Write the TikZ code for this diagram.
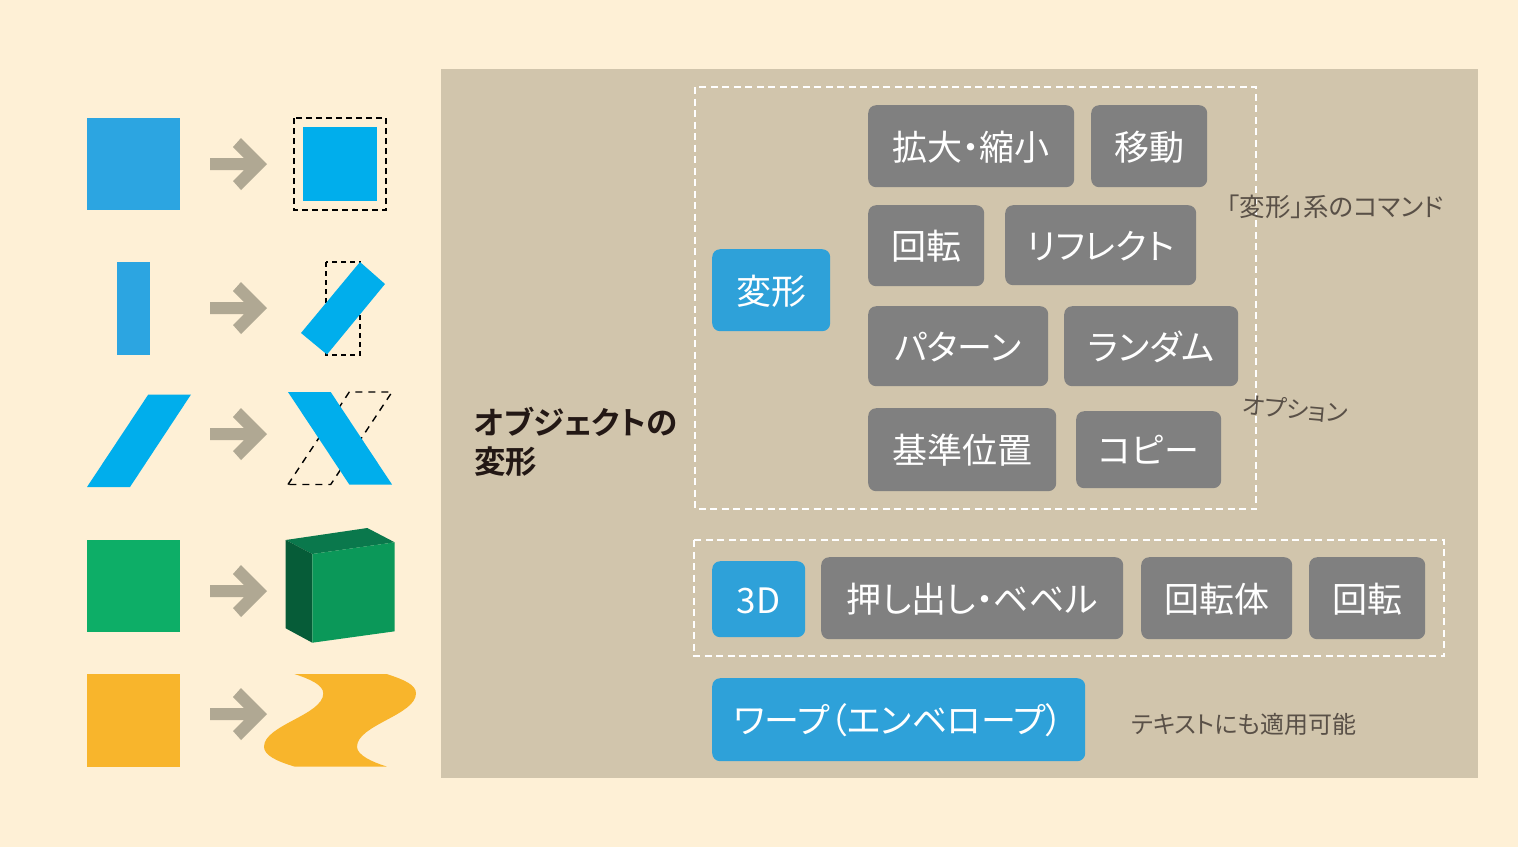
\documentclass[tikz,border=0pt]{standalone}
\usepackage{fontspec}
\usepackage{tikz}
\usetikzlibrary{positioning}
\newfontfamily\jpfont[RawFeature=+palt,BoldFont={Noto Sans CJK JP Bold}]{Noto Sans CJK JP}
\definecolor{pagecream}{RGB}{254,240,214}
\definecolor{panelsand}{RGB}{209,197,172}
\definecolor{cmdgray}{RGB}{128,128,128}
\definecolor{cmdblue}{RGB}{46,161,217}
\definecolor{shapeblue}{RGB}{44,165,225}
\definecolor{shapecyan}{RGB}{0,174,236}
\definecolor{shapegreen}{RGB}{13,174,103}
\definecolor{shapeorange}{RGB}{248,181,44}
\definecolor{cubetop}{RGB}{10,120,76}
\definecolor{cubeleft}{RGB}{6,92,56}
\definecolor{cubefront}{RGB}{11,152,89}
\definecolor{arrowsand}{RGB}{176,168,147}
\definecolor{notegray}{RGB}{89,80,71}
\definecolor{boldink}{RGB}{35,24,21}
\tikzstyle{cmd} = [rectangle, rounded corners=8pt, anchor=north west, inner sep=0pt, text centered, text height=33pt, text depth=5.4pt, text=white, fill=cmdgray, font=\jpfont\fontsize{35}{40}\selectfont]
\tikzstyle{head} = [cmd, fill=cmdblue]
\tikzstyle{note} = [inner sep=0pt, anchor=center, text=notegray, font=\jpfont\fontsize{24}{28}\selectfont]
\tikzstyle{group} = [draw=white, line width=2.8pt, dash pattern=on 7pt off 4.5pt]
\tikzstyle{guide} = [draw=black, line width=1.1pt, dash pattern=on 5pt off 4pt]

\begin{document}
\begin{tikzpicture}[x=1pt, y=-1pt]
% Background and panel
\fill[pagecream] (0,0) rectangle (1518,847);
\useasboundingbox (0,0) rectangle (1518,847);
\fill[panelsand] (441,69) rectangle (1478,778);

% Arrows between the shapes
\foreach \y in {164,308,434,591,714} {
  \fill[arrowsand] (210,\y-6) -- (244,\y-6) -- (233,\y-17) -- (241,\y-26) -- (267,\y) -- (241,\y+26) -- (233,\y+17) -- (244,\y+6) -- (210,\y+6) -- cycle;
}

% Scale
\fill[shapeblue] (87,118) rectangle (180,210);
\draw[guide, line width=1.8pt, dash pattern=on 6pt off 4pt] (294,118) rectangle (386,210);
\fill[shapecyan] (303,127) rectangle (377,201);

% Rotate
\fill[shapeblue] (117,262) rectangle (150,355);
\draw[guide] (326,262) rectangle (360,355);
\fill[shapecyan] (360,262) -- (385,284) -- (327,354.5) -- (301,333) -- cycle;

% Reflect
\fill[shapecyan] (87,487) -- (148.3,394.5) -- (191,394.5) -- (130,487) -- cycle;
\draw[guide, line width=1.4pt, dash pattern=on 7pt off 6pt] (288,484.5) -- (349.3,392) -- (392,392) -- (330.7,484.5) -- cycle;
\fill[shapecyan] (288,392) -- (330.7,392) -- (392,484.5) -- (349.3,484.5) -- cycle;

% 3D
\fill[shapegreen] (87,539.5) rectangle (180,632);
\fill[cubetop] (285.7,540) -- (367.3,528) -- (394.7,542.3) -- (312.3,554) -- cycle;
\fill[cubeleft] (285.7,540) -- (312.3,554) -- (312.3,642.7) -- (285.7,628.3) -- cycle;
\fill[cubefront] (312.3,554) -- (394.7,542.3) -- (394.7,631.3) -- (312.3,642.7) -- cycle;

% Warp
\fill[shapeorange] (87,674) rectangle (180,766.5);
\fill[shapeorange] (386.7,674) .. controls (405,680) and (416,685) .. (416,693.3) .. controls (416,715) and (357,725) .. (357,746.7) .. controls (357,755) and (372,762) .. (386.7,766.5) -- (294.3,766.5) .. controls (276,761) and (264,755) .. (264,746.7) .. controls (264,725) and (323.3,715) .. (323.3,693.3) .. controls (323.3,685) and (310,679) .. (294.3,674) -- cycle;

% Title
\node (title) [anchor=west, inner sep=0pt, align=left, text=boldink, font=\jpfont\bfseries\fontsize{31.5}{39}\selectfont] at (474,442) {オブジェクトの\\変形};

% Transform group
\draw[group] (695,87) rectangle (1256,509);
\node (henkei) [head, minimum width=118pt, minimum height=82pt] at (712,249) {変形};
\node (scale) [cmd, minimum width=206pt, minimum height=82pt] at (868,105) {拡大・縮小};
\node (move) [cmd, minimum width=116pt, minimum height=82pt] at (1091,105) {移動};
\node (rotate) [cmd, minimum width=116pt, minimum height=81pt] at (868,205) {回転};
\node (reflect) [cmd, minimum width=191pt, minimum height=80pt] at (1005,205) {リフレクト};
\node (pattern) [cmd, minimum width=180pt, minimum height=80pt] at (868,306) {パターン};
\node (random) [cmd, minimum width=174pt, minimum height=80pt] at (1064,306) {ランダム};
\node (origin) [cmd, minimum width=188pt, minimum height=83pt] at (868,408) {基準位置};
\node (copy) [cmd, minimum width=145pt, minimum height=77pt] at (1076,411) {コピー};

% 3D group
\draw[group] (694,540) rectangle (1444,656);
\node (threed) [head, minimum width=93pt, minimum height=76pt] at (712,561) {3D};
\node (extrude) [cmd, minimum width=302pt, minimum height=82pt] at (821,557) {押し出し・ベベル};
\node (lathe) [cmd, minimum width=151pt, minimum height=82pt] at (1141,557) {回転体};
\node (rotatethreed) [cmd, minimum width=116pt, minimum height=82pt] at (1309,557) {回転};

% Warp
\node (warp) [head, minimum width=373pt, minimum height=83pt] at (712,678) {ワープ（エンベロープ）};

% Notes
\node (notecmd) [note, font=\jpfont\fontsize{25.5}{30}\selectfont] at (1335,207) {「変形」系のコマンド};
\node (noteopt) [note, rotate=-5] at (1295,409) {オプション};
\node (notetext) [note] at (1244,724) {テキストにも適用可能};
\end{tikzpicture}
\end{document}
